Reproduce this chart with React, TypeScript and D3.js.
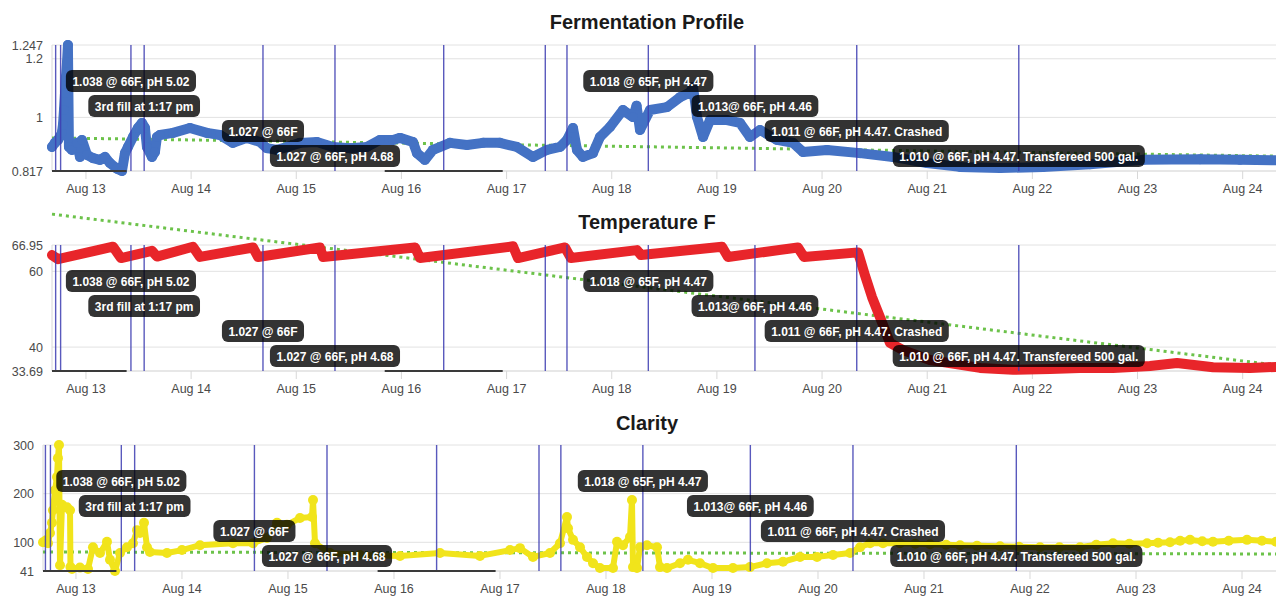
import * as d3 from "d3";
import { useEffect, useRef } from "react";

const width = 1276;
const height = 596;
const plotRight = 1290;
const font = "'Liberation Sans', Arial, Helvetica, sans-serif";

// specific gravity readings
const gravity: [string, number][] = [
  ["08-12 16:15", 0.899], ["08-12 16:55", 0.913], ["08-12 17:37", 0.923], ["08-12 18:31", 0.947],
  ["08-12 18:45", 0.974], ["08-12 18:59", 1.025], ["08-12 19:13", 1.083], ["08-12 19:26", 1.138],
  ["08-12 19:40", 1.186], ["08-12 19:53", 1.247], ["08-12 20:07", 0.899], ["08-12 20:48", 0.889],
  ["08-12 21:57", 0.913], ["08-12 22:38", 0.865], ["08-12 23:05", 0.923], ["08-13 00:14", 0.872],
  ["08-13 01:36", 0.861], ["08-13 03:12", 0.855], ["08-13 04:20", 0.865], ["08-13 05:29", 0.844],
  ["08-13 07:05", 0.825], ["08-13 08:13", 0.817], ["08-13 08:54", 0.878], ["08-13 09:35", 0.899],
  ["08-13 10:44", 0.933], ["08-13 11:52", 0.964], ["08-13 12:47", 0.981], ["08-13 13:28", 0.964],
  ["08-13 13:55", 0.899], ["08-13 15:04", 0.865], ["08-13 15:45", 0.882], ["08-13 16:12", 0.933],
  ["08-13 16:53", 0.94], ["08-13 19:51", 0.947], ["08-13 23:44", 0.964], ["08-14 03:37", 0.947],
  ["08-14 06:35", 0.94], ["08-14 09:33", 0.913], ["08-14 12:45", 0.93], ["08-14 15:43", 0.916],
  ["08-14 17:19", 0.895], ["08-14 19:36", 0.889], ["08-14 21:53", 0.899], ["08-15 00:51", 0.913],
  ["08-15 04:43", 0.916], ["08-15 08:23", 0.899], ["08-15 12:15", 0.895], ["08-15 16:08", 0.899],
  ["08-15 19:06", 0.923], ["08-15 22:04", 0.923], ["08-15 23:40", 0.93], ["08-16 02:38", 0.916],
  ["08-16 03:33", 0.878], ["08-16 05:22", 0.855], ["08-16 07:12", 0.889], ["08-16 11:05", 0.913],
  ["08-16 14:58", 0.906], ["08-16 18:37", 0.913], ["08-16 22:29", 0.913], ["08-17 02:22", 0.899],
  ["08-17 06:01", 0.865], ["08-17 09:13", 0.889], ["08-17 12:11", 0.899], ["08-17 13:47", 0.923],
  ["08-17 15:09", 0.964], ["08-17 16:04", 0.889], ["08-17 17:26", 0.865], ["08-17 19:43", 0.878],
  ["08-17 21:19", 0.933], ["08-17 23:36", 0.967], ["08-18 02:34", 1.025], ["08-18 04:51", 1.001],
  ["08-18 05:40", 1.04], ["08-18 06:27", 0.957], ["08-18 08:44", 1.025], ["08-18 12:37", 1.035],
  ["08-18 15:35", 1.069], ["08-18 17:52", 1.085], ["08-18 18:33", 1.104], ["08-18 19:28", 1.001],
  ["08-18 20:50", 0.933], ["08-18 22:26", 0.991], ["08-19 02:19", 0.991], ["08-19 05:16", 0.981],
  ["08-19 07:33", 0.933], ["08-19 09:50", 0.957], ["08-19 13:43", 0.923], ["08-19 17:22", 0.913],
  ["08-19 19:39", 0.882], ["08-20 01:08", 0.889], ["08-20 08:40", 0.878], ["08-20 16:11", 0.865],
  ["08-20 23:57", 0.844], ["08-21 07:29", 0.831], ["08-21 16:37", 0.827], ["08-22 02:26", 0.831],
  ["08-22 13:09", 0.84], ["08-23 01:15", 0.855], ["08-23 14:16", 0.857], ["08-23 23:23", 0.855],
  ["08-24 10:48", 0.853],
];

// fermenter temperature, F
const temperature: [string, number][] = [
  ["08-12 16:15", 64.3], ["08-12 17:37", 63.2], ["08-13 06:10", 66.5], ["08-13 08:00", 63.5],
  ["08-13 15:04", 65.4], ["08-13 16:12", 63.9], ["08-14 00:25", 66.5], ["08-14 02:01", 63.8],
  ["08-14 14:07", 66.3], ["08-14 15:16", 63.8], ["08-15 05:24", 66.3], ["08-15 06:06", 63.8],
  ["08-16 03:06", 66.3], ["08-16 04:14", 63.5], ["08-17 01:28", 66.6], ["08-17 02:36", 63.5],
  ["08-17 13:20", 66.3], ["08-17 14:41", 63.5], ["08-18 05:46", 65.6], ["08-18 06:40", 64.3],
  ["08-19 01:10", 66.5], ["08-19 02:32", 63.8], ["08-19 18:30", 66.3], ["08-19 19:52", 63.8],
  ["08-20 08:13", 65.0], ["08-20 09:47", 59.0], ["08-20 11:24", 53.2], ["08-20 13:13", 47.9],
  ["08-20 15:30", 41.1], ["08-20 18:29", 39.2], ["08-21 00:38", 36.6], ["08-21 12:03", 34.5],
  ["08-21 19:35", 34.0], ["08-22 04:02", 34.2], ["08-22 10:52", 34.5], ["08-22 18:24", 34.5],
  ["08-23 02:51", 35.0], ["08-23 09:01", 35.8], ["08-23 17:14", 34.7], ["08-24 01:41", 34.5],
  ["08-24 10:48", 34.9],
];

// clarity sensor readings
const clarity: [string, number][] = [
  ["08-12 16:32", 100], ["08-12 17:13", 104], ["08-12 17:40", 98], ["08-12 18:07", 119],
  ["08-12 18:34", 140], ["08-12 18:47", 166], ["08-12 19:15", 207], ["08-12 19:42", 234],
  ["08-12 19:55", 273], ["08-12 20:09", 300], ["08-12 20:23", 53], ["08-12 20:50", 177],
  ["08-12 21:04", 172], ["08-12 21:58", 172], ["08-12 22:39", 166], ["08-12 22:45", 49],
  ["08-12 23:06", 45], ["08-13 00:54", 48], ["08-13 02:43", 45], ["08-13 03:51", 90],
  ["08-13 05:26", 78], ["08-13 07:01", 101], ["08-13 07:42", 64], ["08-13 08:50", 41],
  ["08-13 09:58", 78], ["08-13 11:33", 90], ["08-13 12:54", 98], ["08-13 13:49", 125],
  ["08-13 14:29", 119], ["08-13 15:24", 140], ["08-13 16:05", 90], ["08-13 16:45", 80],
  ["08-13 20:36", 78], ["08-14 00:00", 84], ["08-14 04:05", 94], ["08-14 11:33", 98],
  ["08-14 16:05", 98], ["08-14 19:15", 109], ["08-14 21:31", 140], ["08-14 23:46", 136],
  ["08-15 02:43", 150], ["08-15 05:26", 152], ["08-15 05:40", 187], ["08-15 06:07", 98],
  ["08-15 09:31", 78], ["08-15 16:18", 74], ["08-16 01:22", 72], ["08-16 10:25", 78],
  ["08-16 19:28", 72], ["08-17 02:16", 84], ["08-17 04:32", 88], ["08-17 07:28", 70],
  ["08-17 11:19", 78], ["08-17 13:35", 98], ["08-17 15:10", 152], ["08-17 15:24", 129],
  ["08-17 16:32", 105], ["08-17 18:07", 90], ["08-17 19:42", 70], ["08-17 21:04", 57],
  ["08-17 22:38", 47], ["08-18 01:35", 47], ["08-18 02:30", 101], ["08-18 03:51", 94],
  ["08-18 05:26", 111], ["08-18 05:53", 187], ["08-18 06:07", 49], ["08-18 07:01", 47],
  ["08-18 07:42", 90], ["08-18 09:17", 94], ["08-18 11:33", 90], ["08-18 12:14", 49],
  ["08-18 13:49", 47], ["08-18 16:45", 57], ["08-18 18:34", 64], ["08-18 21:17", 57],
  ["08-19 00:14", 47], ["08-19 04:45", 47], ["08-19 08:36", 49], ["08-19 12:27", 57],
  ["08-19 16:05", 60], ["08-19 19:56", 70], ["08-19 23:47", 70], ["08-20 03:24", 74],
  ["08-20 07:15", 78], ["08-20 09:31", 90], ["08-20 11:47", 98], ["08-20 14:43", 98],
  ["08-20 18:34", 98], ["08-20 22:00", 97], ["08-21 01:22", 96], ["08-21 05:00", 95],
  ["08-21 08:10", 94], ["08-21 12:00", 93], ["08-21 17:13", 92], ["08-21 21:30", 91],
  ["08-22 02:16", 90], ["08-22 06:40", 90], ["08-22 11:20", 90], ["08-22 15:00", 95],
  ["08-22 18:48", 98], ["08-22 22:30", 97], ["08-23 02:30", 98], ["08-23 05:00", 99],
  ["08-23 07:42", 100], ["08-23 10:00", 103], ["08-23 12:14", 105], ["08-23 15:00", 102],
  ["08-23 17:26", 101], ["08-23 21:00", 103], ["08-24 01:08", 105], ["08-24 04:30", 103],
  ["08-24 07:42", 101], ["08-24 10:52", 102],
];

// linear trend lines (start and end of each)
const gravityTrend = [0.93, 0.867];
const temperatureTrend = [75.1, 34.8];
const clarityTrend = [80, 76];

const gravityTicks = [0.817, 1, 1.2, 1.247];
const temperatureTicks = [33.69, 40, 60, 66.95];
const clarityTicks = [41, 100, 200, 300];

// annotation lines
const eventTimes = [
  "08-12 17:05", "08-12 18:13", "08-13 10:16", "08-13 13:17", "08-14 16:24", "08-15 08:50",
  "08-16 09:39", "08-17 08:50", "08-17 13:47", "08-18 08:21", "08-19 08:41", "08-20 07:55",
  "08-21 20:54",
];
const eventLabels = [
  "", "", "1.038 @ 66F, pH 5.02", "3rd fill at 1:17 pm", "1.027 @ 66F", "1.027 @ 66F, pH 4.68",
  "", "", "", "1.018 @ 65F, pH 4.47", "1.013@ 66F, pH 4.46", "1.011 @ 66F, pH 4.47. Crashed",
  "1.010 @ 66F, pH 4.47. Transfereed 500 gal.",
];
// empty labels show up only as a thin bar on the axis
const emptyBarWidths = [0, 132, 0, 0, 0, 0, 118, 0, 0, 0, 0, 0, 0];

const parse = d3.timeParse("%m-%d %H:%M");

const panels = [
  { title: "Fermentation Profile", series: gravity, trend: gravityTrend, ticks: gravityTicks,
    top: 45, bottom: 171, left: 52, titleY: 29,
    color: "#4472c4", lineWidth: 10, radius: 5 },
  { title: "Temperature F", series: temperature, trend: temperatureTrend, ticks: temperatureTicks,
    top: 245, bottom: 371, left: 52, titleY: 229,
    color: "#e8252a", lineWidth: 10, radius: 0 },
  { title: "Clarity", series: clarity, trend: clarityTrend, ticks: clarityTicks,
    top: 445, bottom: 571, left: 43, titleY: 430,
    color: "#f1e41b", lineWidth: 6, radius: 5 },
];

const drawPanel = (svg: any, p: any) => {
  const data = p.series.map(([t, v]: [string, number]) => ({ t: parse(t) as Date, v }));
  const x = d3.scaleTime()
    .domain(d3.extent(data, (d: any) => d.t) as [Date, Date])
    .range([p.left, plotRight]);
  const y = d3.scaleLinear()
    .domain([p.ticks[0], p.ticks[p.ticks.length - 1]])
    .range([p.bottom, p.top]);

  const g = svg.append("g").attr("font-family", font);

  g.append("text")
    .attr("x", 647).attr("y", p.titleY)
    .attr("text-anchor", "middle")
    .attr("font-size", 20).attr("font-weight", "bold").attr("fill", "#1a1a1a")
    .text(p.title);

  // horizontal grid + y labels
  g.selectAll(".grid").data(p.ticks).enter().append("line")
    .attr("x1", p.left).attr("x2", plotRight)
    .attr("y1", (d: number) => y(d)).attr("y2", (d: number) => y(d))
    .attr("stroke", (d: number, i: number) => (i === 0 ? "#cfcfcf" : "#e2e2e2"))
    .attr("stroke-width", 1);
  g.selectAll(".ylab").data(p.ticks).enter().append("text")
    .attr("x", p.left - 9).attr("y", (d: number) => y(d) + 4.5)
    .attr("text-anchor", "end").attr("font-size", 12.5).attr("fill", "#4a4a4a")
    .text((d: number) => String(d));
  g.append("line")
    .attr("x1", p.left).attr("x2", p.left).attr("y1", p.top).attr("y2", p.bottom)
    .attr("stroke", "#d8d8d8");

  // x ticks
  const days = x.ticks(d3.timeDay.every(1));
  g.selectAll(".xtick").data(days).enter().append("line")
    .attr("x1", (d: Date) => x(d)).attr("x2", (d: Date) => x(d))
    .attr("y1", p.bottom).attr("y2", p.bottom + 8)
    .attr("stroke", "#d8d8d8");
  g.selectAll(".xlab").data(days).enter().append("text")
    .attr("x", (d: Date) => x(d)).attr("y", p.bottom + 22)
    .attr("text-anchor", "middle").attr("font-size", 12.5).attr("fill", "#4a4a4a")
    .text(d3.timeFormat("%b %d"));

  // trend
  const [t0, t1] = x.domain();
  g.append("line")
    .attr("x1", x(t0)).attr("x2", x(t1))
    .attr("y1", y(p.trend[0])).attr("y2", y(p.trend[1]))
    .attr("stroke", "#6cc24a").attr("stroke-width", 3)
    .attr("stroke-dasharray", "3 4");

  // series
  const line = d3.line<any>().x((d) => x(d.t)).y((d) => y(d.v));
  g.append("path").datum(data)
    .attr("d", line)
    .attr("fill", "none").attr("stroke", p.color)
    .attr("stroke-width", p.lineWidth)
    .attr("stroke-linejoin", "round").attr("stroke-linecap", "round");
  if (p.radius > 0) {
    g.selectAll(".pt").data(data).enter().append("circle")
      .attr("cx", (d: any) => x(d.t)).attr("cy", (d: any) => y(d.v))
      .attr("r", p.radius).attr("fill", p.color);
  }

  // annotations
  const events = eventTimes.map((t, i) => ({
    t: parse(t) as Date, label: eventLabels[i], bar: emptyBarWidths[i],
  }));
  g.selectAll(".ev").data(events).enter().append("line")
    .attr("x1", (d: any) => x(d.t)).attr("x2", (d: any) => x(d.t))
    .attr("y1", p.top).attr("y2", p.bottom)
    .attr("stroke", "#3d3db2").attr("stroke-width", 1.4).attr("opacity", 0.85);

  events.filter((d) => d.bar > 0).forEach((d) => {
    const x0 = Math.max(p.left, x(d.t) - d.bar / 2);
    g.append("rect")
      .attr("x", x0).attr("y", p.bottom - 1)
      .attr("width", x(d.t) + d.bar / 2 - x0).attr("height", 2)
      .attr("fill", "#3a3a3a");
  });

  events.filter((d) => d.label !== "").forEach((d, i) => {
    const cy = p.top + 36 + (i % 4) * 25;
    const cx = x(d.t);
    const lg = g.append("g");
    const rect = lg.append("rect")
      .attr("y", cy - 11).attr("height", 22).attr("rx", 6)
      .attr("fill", "rgba(0,0,0,0.8)");
    const txt = lg.append("text")
      .attr("x", cx).attr("y", cy + 4.5)
      .attr("text-anchor", "middle").attr("font-size", 12).attr("font-weight", "bold")
      .attr("fill", "#fff")
      .text(d.label);
    const w = (txt.node() as SVGTextElement).getComputedTextLength() + 13;
    rect.attr("x", cx - w / 2).attr("width", w);
  });
};

const App = () => {
  const ref = useRef<SVGSVGElement | null>(null);

  useEffect(() => {
    document.body.style.margin = "0";
    const svg = d3.select(ref.current);
    svg.selectAll("*").remove();
    panels.forEach((p) => drawPanel(svg, p));
  }, []);

  return (
    <svg ref={ref} width={width} height={height} style={{ display: "block", background: "#fff" }} />
  );
};

export default App;
